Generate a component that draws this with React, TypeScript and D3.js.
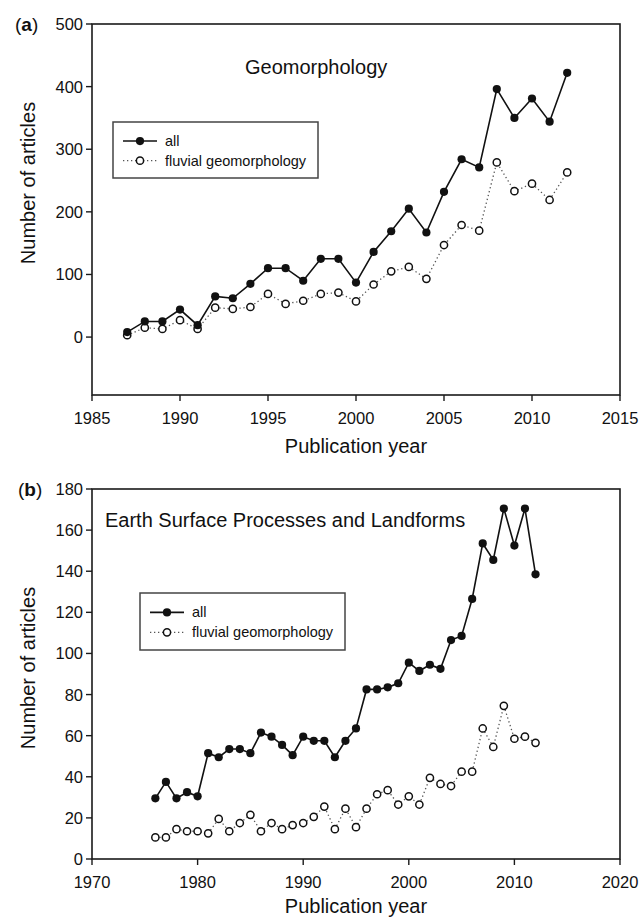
import React from 'react';
import * as d3 from 'd3';

// ---------- Data ----------
const yearsA = [1987, 1988, 1989, 1990, 1991, 1992, 1993, 1994, 1995, 1996, 1997, 1998, 1999, 2000, 2001, 2002, 2003, 2004, 2005, 2006, 2007, 2008, 2009, 2010, 2011, 2012];
const allA = [8, 25, 25, 44, 19, 65, 62, 85, 110, 110, 90, 125, 125, 87, 136, 169, 205, 167, 232, 284, 271, 396, 350, 381, 344, 422];
const fluvialA = [3, 15, 13, 27, 13, 47, 45, 48, 69, 53, 58, 69, 71, 57, 84, 105, 112, 93, 147, 179, 170, 279, 233, 245, 219, 263];

const yearsB = [1976, 1977, 1978, 1979, 1980, 1981, 1982, 1983, 1984, 1985, 1986, 1987, 1988, 1989, 1990, 1991, 1992, 1993, 1994, 1995, 1996, 1997, 1998, 1999, 2000, 2001, 2002, 2003, 2004, 2005, 2006, 2007, 2008, 2009, 2010, 2011, 2012];
const allB = [29.5, 37.5, 29.5, 32.5, 30.5, 51.5, 49.5, 53.5, 53.5, 51.5, 61.5, 59.5, 55.5, 50.5, 59.5, 57.5, 57.5, 49.5, 57.5, 63.5, 82.5, 82.5, 83.5, 85.5, 95.5, 91.5, 94.5, 92.5, 106.5, 108.5, 126.5, 153.5, 145.5, 170.5, 152.5, 170.5, 138.5];
const fluvialB = [10.5, 10.5, 14.5, 13.5, 13.5, 12.5, 19.5, 13.5, 17.5, 21.5, 13.5, 17.5, 14.5, 16.5, 17.5, 20.5, 25.5, 14.5, 24.5, 15.5, 24.5, 31.5, 33.5, 26.5, 30.5, 26.5, 39.5, 36.5, 35.5, 42.5, 42.5, 63.5, 54.5, 74.5, 58.5, 59.5, 56.5];

const xTicksA = [1985, 1990, 1995, 2000, 2005, 2010, 2015];
const yTicksA = [0, 100, 200, 300, 400, 500];
const xTicksB = [1970, 1980, 1990, 2000, 2010, 2020];
const yTicksB = [0, 20, 40, 60, 80, 100, 120, 140, 160, 180];

const seriesNames = ['all', 'fluvial geomorphology'];

const FONT = '"Liberation Sans", Arial, Helvetica, sans-serif';

type PanelProps = {
  label: string;
  labelX: number;
  labelY: number;
  title: string;
  titleX: number;
  titleY: number;
  years: number[];
  all: number[];
  fluvial: number[];
  xDomain: [number, number];
  yDomain: [number, number];
  xTicks: number[];
  yTicks: number[];
  left: number;
  right: number;
  top: number;
  bottom: number;
  yTitleCenter: number;
  xTitleOffset: number;
  legend: { x: number; y: number; w: number; h: number };
};

function Panel(p: PanelProps) {
  const x = d3.scaleLinear().domain(p.xDomain).range([p.left, p.right]);
  const y = d3.scaleLinear().domain(p.yDomain).range([p.bottom, p.top]);
  const line = d3
    .line<[number, number]>()
    .x((d) => x(d[0]))
    .y((d) => y(d[1]));
  const allPts: [number, number][] = p.years.map((yr, i) => [yr, p.all[i]]);
  const fluPts: [number, number][] = p.years.map((yr, i) => [yr, p.fluvial[i]]);
  const axisColor = '#1a1a1a';
  const tickLen = 6;
  const lg = p.legend;
  const row1 = lg.y + lg.h * 0.34;
  const row2 = lg.y + lg.h * 0.69;
  const lx0 = lg.x + 10;
  const lx1 = lg.x + 44;
  const lmx = (lx0 + lx1) / 2;

  return (
    <g fontFamily={FONT}>
      {/* panel label */}
      <text x={p.labelX} y={p.labelY} fontSize={19} fill="#111">
        (<tspan fontWeight="bold">{p.label}</tspan>)
      </text>
      {/* frame */}
      <rect
        x={p.left}
        y={p.top}
        width={p.right - p.left}
        height={p.bottom - p.top}
        fill="none"
        stroke={axisColor}
        strokeWidth={1.6}
      />
      {/* y ticks */}
      {p.yTicks.map((t) => (
        <g key={'y' + t}>
          <line x1={p.left - tickLen} x2={p.left} y1={y(t)} y2={y(t)} stroke={axisColor} strokeWidth={1.4} />
          <text x={p.left - 9} y={y(t)} fontSize={16.5} textAnchor="end" dominantBaseline="central" fill="#111">
            {t}
          </text>
        </g>
      ))}
      {/* x ticks */}
      {p.xTicks.map((t) => (
        <g key={'x' + t}>
          <line x1={x(t)} x2={x(t)} y1={p.bottom} y2={p.bottom + tickLen} stroke={axisColor} strokeWidth={1.4} />
          <text x={x(t)} y={p.bottom + 23} fontSize={16.5} textAnchor="middle" dominantBaseline="central" fill="#111">
            {t}
          </text>
        </g>
      ))}
      {/* axis titles */}
      <text
        x={(p.left + p.right) / 2}
        y={p.bottom + p.xTitleOffset}
        fontSize={20}
        textAnchor="middle"
        dominantBaseline="central"
        fill="#111"
      >
        Publication year
      </text>
      <text
        transform={`translate(28,${p.yTitleCenter}) rotate(-90)`}
        fontSize={20}
        textAnchor="middle"
        dominantBaseline="central"
        fill="#111"
      >
        Number of articles
      </text>
      {/* in-plot title */}
      <text x={p.titleX} y={p.titleY} fontSize={20} fill="#111">
        {p.title}
      </text>
      {/* series */}
      <path d={line(fluPts) || ''} fill="none" stroke="#555" strokeWidth={1.3} strokeDasharray="1.3,2.7" />
      <path d={line(allPts) || ''} fill="none" stroke="#111" strokeWidth={1.6} />
      {fluPts.map((d, i) => (
        <circle key={'f' + i} cx={x(d[0])} cy={y(d[1])} r={3.6} fill="#fff" stroke="#111" strokeWidth={1.5} />
      ))}
      {allPts.map((d, i) => (
        <circle key={'a' + i} cx={x(d[0])} cy={y(d[1])} r={4.1} fill="#111" />
      ))}
      {/* legend */}
      <rect x={lg.x} y={lg.y} width={lg.w} height={lg.h} fill="#fff" stroke="#444" strokeWidth={1.5} />
      <line x1={lx0} x2={lx1} y1={row1} y2={row1} stroke="#111" strokeWidth={1.6} />
      <circle cx={lmx} cy={row1} r={4.1} fill="#111" />
      <text x={lg.x + 52} y={row1} fontSize={14.5} dominantBaseline="central" fill="#111">
        {seriesNames[0]}
      </text>
      <line x1={lx0} x2={lx1} y1={row2} y2={row2} stroke="#555" strokeWidth={1.3} strokeDasharray="1.3,2.7" />
      <circle cx={lmx} cy={row2} r={3.6} fill="#fff" stroke="#111" strokeWidth={1.5} />
      <text x={lg.x + 52} y={row2} fontSize={14.5} dominantBaseline="central" fill="#111">
        {seriesNames[1]}
      </text>
    </g>
  );
}

export default function App() {
  return (
    <svg
      width={642}
      height={920}
      viewBox="0 0 642 920"
      style={{ position: 'absolute', left: 0, top: 0, background: '#fff' }}
    >
      <rect x={0} y={0} width={642} height={920} fill="#fff" />
      <Panel
        label="a"
        labelX={15}
        labelY={31}
        title="Geomorphology"
        titleX={245}
        titleY={73.5}
        years={yearsA}
        all={allA}
        fluvial={fluvialA}
        xDomain={[1985, 2015]}
        yDomain={[-92.5, 500]}
        xTicks={xTicksA}
        yTicks={yTicksA}
        left={92}
        right={620}
        top={24}
        bottom={395}
        yTitleCenter={183}
        xTitleOffset={51}
        legend={{ x: 113, y: 122, w: 205, h: 56 }}
      />
      <Panel
        label="b"
        labelX={18}
        labelY={496}
        title="Earth Surface Processes and Landforms"
        titleX={105}
        titleY={527}
        years={yearsB}
        all={allB}
        fluvial={fluvialB}
        xDomain={[1970, 2020]}
        yDomain={[0, 180]}
        xTicks={xTicksB}
        yTicks={yTicksB}
        left={92}
        right={620}
        top={489}
        bottom={859}
        yTitleCenter={668}
        xTitleOffset={47}
        legend={{ x: 140, y: 593, w: 205, h: 57 }}
      />
    </svg>
  );
}
